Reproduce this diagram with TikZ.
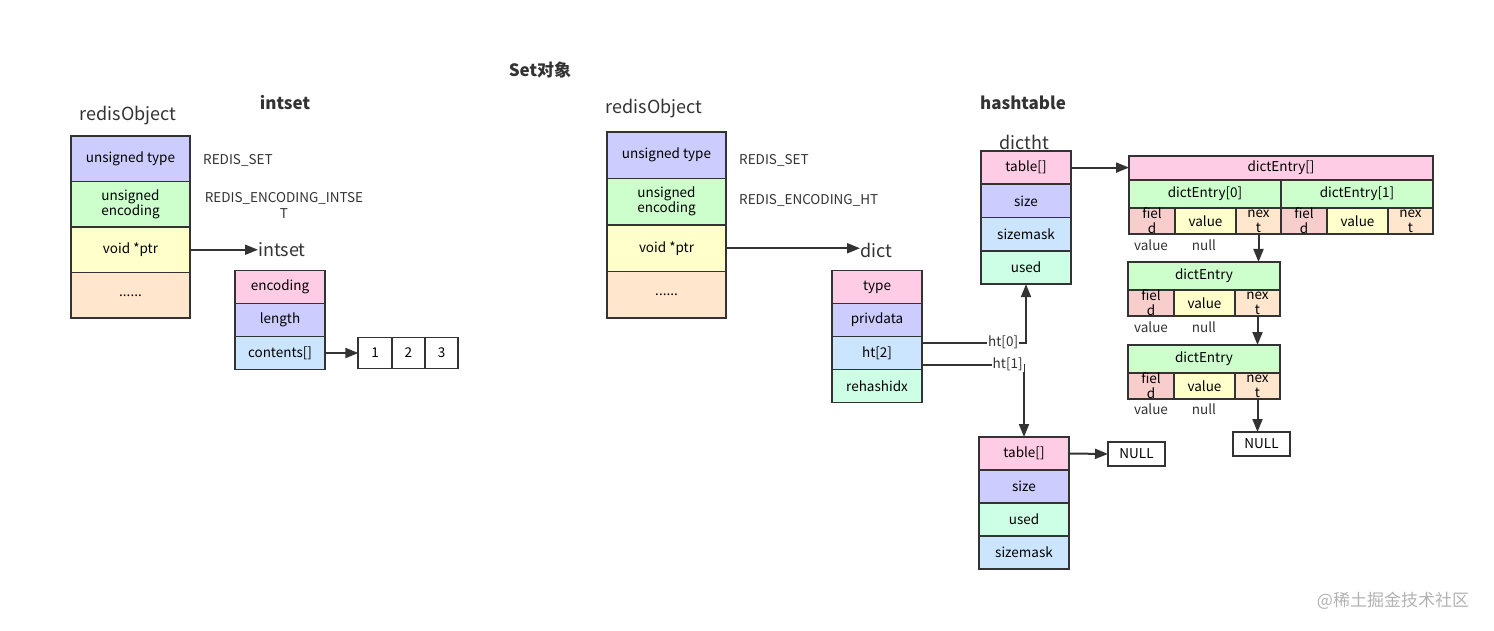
\documentclass[tikz,border=0pt]{standalone}
\usepackage{fontspec}
\setmainfont{Noto Sans CJK SC}
\usetikzlibrary{shapes, arrows.meta, positioning}
\definecolor{pinkc}{HTML}{FFCCE6}
\definecolor{lavc}{HTML}{CCCCFF}
\definecolor{greenc}{HTML}{CCFFCC}
\definecolor{yellowc}{HTML}{FFFFCC}
\definecolor{orangec}{HTML}{FFE6CC}
\definecolor{bluec}{HTML}{CCE5FF}
\definecolor{mintc}{HTML}{CCFFE6}
\definecolor{redc}{HTML}{F8CECC}
\definecolor{linec}{HTML}{333333}
\tikzstyle{cell} = [draw=linec, line width=1.8pt, rectangle, inner sep=0pt, outer sep=0pt, align=center, font=\fontsize{13.5}{14}\selectfont]
\tikzstyle{robox} = [cell, minimum width=119pt, minimum height=45.5pt]
\tikzstyle{sbox} = [cell, minimum width=90pt, minimum height=33pt]
\tikzstyle{fieldc} = [cell, fill=redc, minimum width=46pt, minimum height=26pt]
\tikzstyle{valc} = [cell, fill=yellowc, minimum width=61pt, minimum height=26pt]
\tikzstyle{nextc} = [cell, fill=orangec, minimum width=45pt, minimum height=26pt]
\tikzstyle{entry} = [cell, fill=greenc, minimum width=152pt, minimum height=28pt]
\tikzstyle{nullbox} = [cell, fill=white, minimum width=57pt, minimum height=24pt]
\tikzstyle{numbox} = [cell, fill=white, minimum width=33.3pt, minimum height=31pt]
\tikzstyle{title} = [font=\fontsize{17}{17}\selectfont\bfseries, text=linec]
\tikzstyle{lbl} = [font=\fontsize{18}{18}\selectfont, text=linec]
\tikzstyle{small} = [font=\fontsize{13.5}{16}\selectfont, text=linec, inner sep=1pt]
\tikzstyle{link} = [draw=linec, line width=2pt, ->]

\begin{document}
\begin{tikzpicture}[x=1pt, y=-1pt, >={Triangle[length=13pt,width=10pt]}]
\useasboundingbox (0,0) rectangle (1494,631);

\node [title] (settitle) at (540,70) {Set对象};
\node [title] (intsettitle) at (285,103) {intset};
\node [title] (httitle) at (1023,103) {hashtable};

% redisObject (intset)
\node [lbl] (ro1lbl) at (128,116) {redisObject};
\node [robox, fill=lavc] (ro1type) at (130.5,158.75) {unsigned type};
\node [robox, fill=greenc, below=0pt of ro1type] (ro1enc) {unsigned\\encoding};
\node [robox, fill=yellowc, below=0pt of ro1enc] (ro1ptr) {void *ptr};
\node [robox, fill=orangec, below=0pt of ro1ptr] (ro1rest) {......};
\node [small, anchor=west] (ro1tv) at (202,160) {REDIS\_SET};
\node [small, align=center] (ro1ev) at (284,205) {REDIS\_ENCODING\_INTSE\\T};

% intset
\node [lbl, anchor=west, inner sep=0pt] (intsetlbl) at (258,250) {intset};
\node [sbox, fill=pinkc] (is1) at (280,287) {encoding};
\node [sbox, fill=lavc, below=0pt of is1] (is2) {length};
\node [sbox, fill=bluec, below=0pt of is2] (is3) {contents[]};
\node [numbox] (num1) at (375,353) {1};
\node [numbox, right=0pt of num1] (num2) {2};
\node [numbox, right=0pt of num2] (num3) {3};

\draw [link] (ro1ptr.east) -- (ro1ptr.east -| intsetlbl.west);
\draw [link] (is3.east) -- (is3.east -| num1.west);

% redisObject (hashtable)
\node [lbl] (ro2lbl) at (654,109) {redisObject};
\node [robox, fill=lavc, minimum height=46.5pt] (ro2type) at (666.5,155.25) {unsigned type};
\node [robox, fill=greenc, minimum height=46.5pt, below=0pt of ro2type] (ro2enc) {unsigned\\encoding};
\node [robox, fill=yellowc, minimum height=46.5pt, below=0pt of ro2enc] (ro2ptr) {void *ptr};
\node [robox, fill=orangec, minimum height=46.5pt, below=0pt of ro2ptr] (ro2rest) {......};
\node [small, anchor=west] (ro2tv) at (738,160) {REDIS\_SET};
\node [small, anchor=west] (ro2ev) at (738,200) {REDIS\_ENCODING\_HT};

% dict
\node [lbl, anchor=west, inner sep=0pt] (dictlbl) at (860,250) {dict};
\node [sbox, fill=pinkc] (dtype) at (877,287) {type};
\node [sbox, fill=lavc, below=0pt of dtype] (dpriv) {privdata};
\node [sbox, fill=bluec, below=0pt of dpriv] (ht2) {ht[2]};
\node [sbox, fill=mintc, below=0pt of ht2] (drehash) {rehashidx};

\draw [link] (ro2ptr.east) -- (ro2ptr.east -| dictlbl.west);

% dictht ht[0]
\node [lbl] (dt0lbl) at (1024,142) {dictht};
\node [sbox, fill=pinkc, minimum height=33.3pt] (dt0table) at (1026,167.6) {table[]};
\node [sbox, fill=lavc, minimum height=33.3pt, below=0pt of dt0table] (dt0size) {size};
\node [sbox, fill=bluec, minimum height=33.3pt, below=0pt of dt0size] (dt0mask) {sizemask};
\node [sbox, fill=mintc, minimum height=33.3pt, below=0pt of dt0mask] (dt0used) {used};

% dictht ht[1]
\node [sbox, fill=pinkc] (dt1table) at (1024,453.5) {table[]};
\node [sbox, fill=lavc, below=0pt of dt1table] (dt1size) {size};
\node [sbox, fill=mintc, below=0pt of dt1size] (dt1used) {used};
\node [sbox, fill=bluec, below=0pt of dt1used] (dt1mask) {sizemask};
\node [nullbox] (null1) at (1136.5,454) {NULL};

\draw [link] ([yshift=10.5pt]ht2.east) -| node[small, pos=0.39, fill=white] {ht[0]} (dt0used.south);
\draw [link] ([yshift=-11.5pt]ht2.east) -| node[small, pos=0.42, fill=white] {ht[1]} (dt1table.north);
\draw [link] (dt1table.east) -- (null1.west);

% dictEntry[]
\node [cell, fill=pinkc, minimum width=304pt, minimum height=24pt] (arrtop) at (1281,168) {dictEntry[]};
\node [entry, anchor=north west] (ent0) at (arrtop.south west) {dictEntry[0]};
\node [entry, right=0pt of ent0] (ent1) {dictEntry[1]};
\node [fieldc, anchor=north west] (f0) at (ent0.south west) {fiel\\[1pt]d};
\node [valc, right=0pt of f0] (v0) {value};
\node [nextc, right=0pt of v0] (n0) {nex\\[1pt]t};
\node [fieldc, anchor=north west] (f1) at (ent1.south west) {fiel\\[1pt]d};
\node [valc, right=0pt of f1] (v1) {value};
\node [nextc, right=0pt of v1] (n1) {nex\\[1pt]t};
\node [small] (k0) at (1151,245) {value};
\node [small] (u0) at (1204,245) {null};

\draw [link] (dt0table.east) -- (dt0table.east -| arrtop.west);

% chained dictEntry
\node [entry] (de1) at (1204,276) {dictEntry};
\node [fieldc, anchor=north west] (f2) at (de1.south west) {fiel\\[1pt]d};
\node [valc, right=0pt of f2] (v2) {value};
\node [nextc, right=0pt of v2] (n2) {nex\\[1pt]t};
\node [small] (k1) at (1151,327) {value};
\node [small] (u1) at (1204,327) {null};

\node [entry] (de2) at (1204,359) {dictEntry};
\node [fieldc, anchor=north west] (f3) at (de2.south west) {fiel\\[1pt]d};
\node [valc, right=0pt of f3] (v3) {value};
\node [nextc, right=0pt of v3] (n3) {nex\\[1pt]t};
\node [small] (k2) at (1151,409) {value};
\node [small] (u2) at (1204,409) {null};
\node [nullbox] (null2) at (1261.5,444) {NULL};

\draw [link] (n0.south) -- (n0.south |- de1.north);
\draw [link] (n2.south) -- (n2.south |- de2.north);
\draw [link] (n3.south) -- (n3.south |- null2.north);

\node [font=\fontsize{17}{17}\selectfont, text=black!30] (mark) at (1393,601) {@稀土掘金技术社区};
\end{tikzpicture}
\end{document}
